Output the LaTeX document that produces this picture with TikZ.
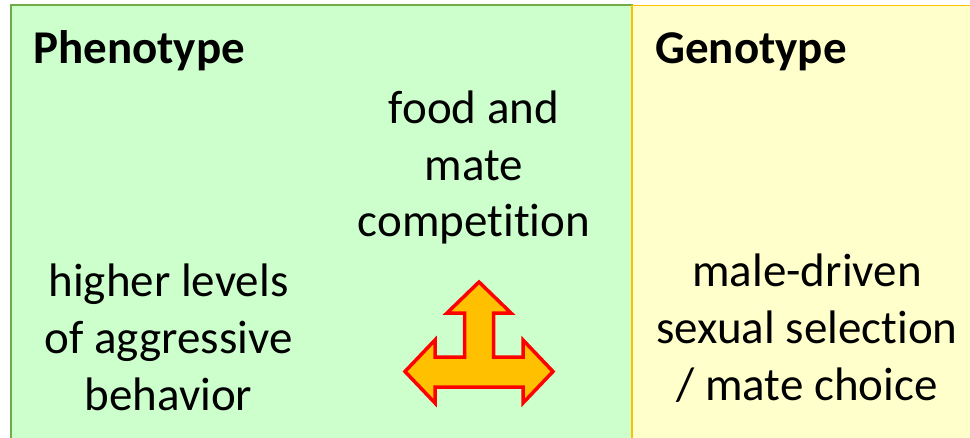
\documentclass[tikz,border=0pt]{standalone}
\usepackage{fontspec}
\setmainfont{Carlito}[Ligatures=CommonOff]
\definecolor{greenfill}{HTML}{CCFFCC}
\definecolor{greenline}{HTML}{70AD47}
\definecolor{yellowfill}{HTML}{FFFFCC}
\definecolor{yellowline}{HTML}{FFC000}
\definecolor{arrowfill}{HTML}{FFC000}
\definecolor{arrowline}{HTML}{FF0000}
\newcommand{\linesc}[1]{\begin{tabular}[t]{@{}c@{}}#1\end{tabular}}
\tikzset{
  panelgreen/.style={fill=greenfill, draw=greenline, line width=1.6pt},
  panelyellow/.style={fill=yellowfill, draw=yellowline, line width=1.6pt},
  title/.style={font=\fontsize{47}{57}\selectfont\bfseries, inner sep=0pt, anchor=base west},
  body/.style={font=\fontsize{47}{56.7}\selectfont, inner sep=0pt, anchor=base},
  bigarrow/.style={fill=arrowfill, draw=arrowline, line width=3.5pt, line join=miter}
}
\begin{document}
\begin{tikzpicture}[x=1pt,y=-1pt]
\useasboundingbox (0,0) rectangle (970,437);
\begin{scope}
\clip (0,0) rectangle (970,437);
\draw[panelgreen] (11,5) rectangle (632,445);
\draw[panelyellow] (632,5.5) rectangle (980,445);
\end{scope}
\node[title] (pheno) at (33,63) {Phenotype};
\node[title] (geno) at (655,63) {Genotype};
\node[body] (food) at (474,123.3) {\linesc{food and\\mate\\competition}};
\node[body] (aggr) at (168.5,296.7) {\linesc{higher levels\\of aggressive\\behavior}};
\node[body] (male) at (807,286.7) {\linesc{male-driven\\sexual selection\\/ mate choice}};
\draw[bigarrow] (479,282) -- (447,313) -- (464.5,313) -- (464.5,357) -- (435,357) -- (435,340)
  -- (405,371.5) -- (435,403) -- (435,387) -- (523,387) -- (523,403) -- (553,371.5)
  -- (523,340) -- (523,357) -- (493.5,357) -- (493.5,313) -- (511,313) -- cycle;
\end{tikzpicture}
\end{document}
